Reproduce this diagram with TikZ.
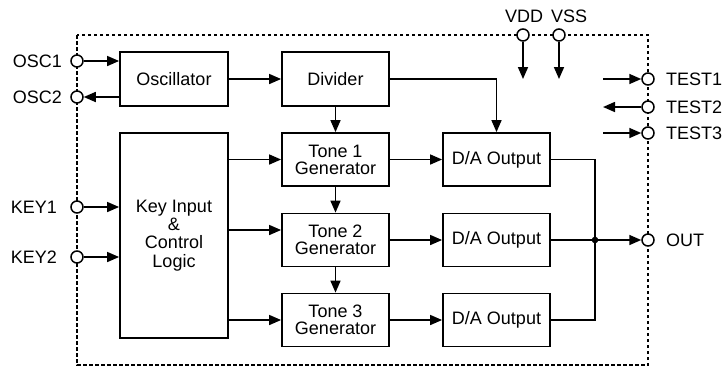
\documentclass[tikz,border=0pt]{standalone}
\usepackage{fontspec}
\setmainfont{Liberation Sans}
\usetikzlibrary{arrows.meta}
\begin{document}
\begin{tikzpicture}[x=1pt,y=-1pt,
  blk/.style={draw,line width=1.8pt,inner sep=0pt,font=\fontsize{18}{17}\selectfont,align=center},
  pin/.style={circle,draw,line width=1.5pt,fill=white,minimum size=12pt,inner sep=0pt},
  lbl/.style={inner sep=0pt,font=\fontsize{18}{19}\selectfont},
  arr/.style={line width=1.6pt,-{Triangle[length=12pt,width=10pt]}},
  wire/.style={line width=1.6pt}]
\useasboundingbox (0,0) rectangle (722,368);
\draw[line width=1.4pt,dash pattern=on 3.5pt off 2.5pt] (77,35) rectangle (648,365);
% blocks
\node[blk,minimum width=108pt,minimum height=54pt] (osc) at (174,79) {Oscillator};
\node[blk,minimum width=107pt,minimum height=54pt] (div) at (335.5,79) {Divider};
\node[blk,minimum width=108pt,minimum height=205pt,font=\fontsize{18}{18.3}\selectfont] (key) at (174,235.5) {Key Input\\\&\\Control\\Logic};
\node[blk,minimum width=107pt,minimum height=53pt] (t1) at (335.5,159.5) {Tone 1\\Generator};
\node[blk,minimum width=107pt,minimum height=53pt] (t2) at (335.5,240) {Tone 2\\Generator};
\node[blk,minimum width=107pt,minimum height=53pt] (t3) at (335.5,320) {Tone 3\\Generator};
\node[blk,minimum width=107pt,minimum height=53pt] (da1) at (496.5,159.5) {D/A Output};
\node[blk,minimum width=107pt,minimum height=53pt] (da2) at (496.5,240) {D/A Output};
\node[blk,minimum width=107pt,minimum height=53pt] (da3) at (496.5,320) {D/A Output};
% pins
\node[pin] (osc1) at (77,61) {};
\node[pin] (osc2) at (77,97) {};
\node[pin] (key1) at (77,207) {};
\node[pin] (key2) at (77,257) {};
\node[pin] (vdd) at (523,35) {};
\node[pin] (vss) at (559,35) {};
\node[pin] (test1) at (648,79) {};
\node[pin] (test2) at (648,107) {};
\node[pin] (test3) at (648,133) {};
\node[pin] (out) at (648,240) {};
% labels
\node[lbl,anchor=east] (losc1) at (62,61) {OSC1};
\node[lbl,anchor=east] (losc2) at (62,97) {OSC2};
\node[lbl,anchor=east] (lkey1) at (57,207) {KEY1};
\node[lbl,anchor=east] (lkey2) at (57,257) {KEY2};
\node[lbl] (lvdd) at (524,16) {VDD};
\node[lbl] (lvss) at (569,16) {VSS};
\node[lbl,anchor=west] (ltest1) at (666,79) {TEST1};
\node[lbl,anchor=west] (ltest2) at (666,107) {TEST2};
\node[lbl,anchor=west] (ltest3) at (666,133) {TEST3};
\node[lbl,anchor=west] (lout) at (666,240) {OUT};
% connectors
\draw[arr] (osc1) -- (osc1 -| osc.west);
\draw[arr] (osc.west |- osc2) -- (osc2);
\draw[arr] (key1) -- (key1 -| key.west);
\draw[arr] (key2) -- (key2 -| key.west);
\draw[arr] (osc) -- (div);
\draw[arr] (div) -- (t1);
\draw[arr] (div.east) -| (da1.north);
\draw[arr] (t1) -- (t2);
\draw[arr] (t2) -- (t3);
\draw[arr] (key.east |- t1) -- (t1);
\draw[arr] (key.east |- 0,230) -- (t2.west |- 0,230);
\draw[arr] (key.east |- t3) -- (t3);
\draw[arr] (t1) -- (da1);
\draw[arr] (t2) -- (da2);
\draw[arr] (t3) -- (da3);
\coordinate (j) at (595,240);
\draw[wire] (da1.east) -| (j);
\draw[wire] (da3.east) -| (j);
\draw[arr] (da2.east) -- (out);
\fill (j) circle (3.3pt);
\coordinate (vddE) at (523,79);
\coordinate (vssE) at (559,79);
\draw[arr] (vdd) -- (vddE);
\draw[arr] (vss) -- (vssE);
\coordinate (t1s) at (603,79);
\coordinate (t2e) at (603,107);
\coordinate (t3s) at (603,133);
\draw[arr] (t1s) -- (test1);
\draw[arr] (test2) -- (t2e);
\draw[arr] (t3s) -- (test3);
\end{tikzpicture}
\end{document}
